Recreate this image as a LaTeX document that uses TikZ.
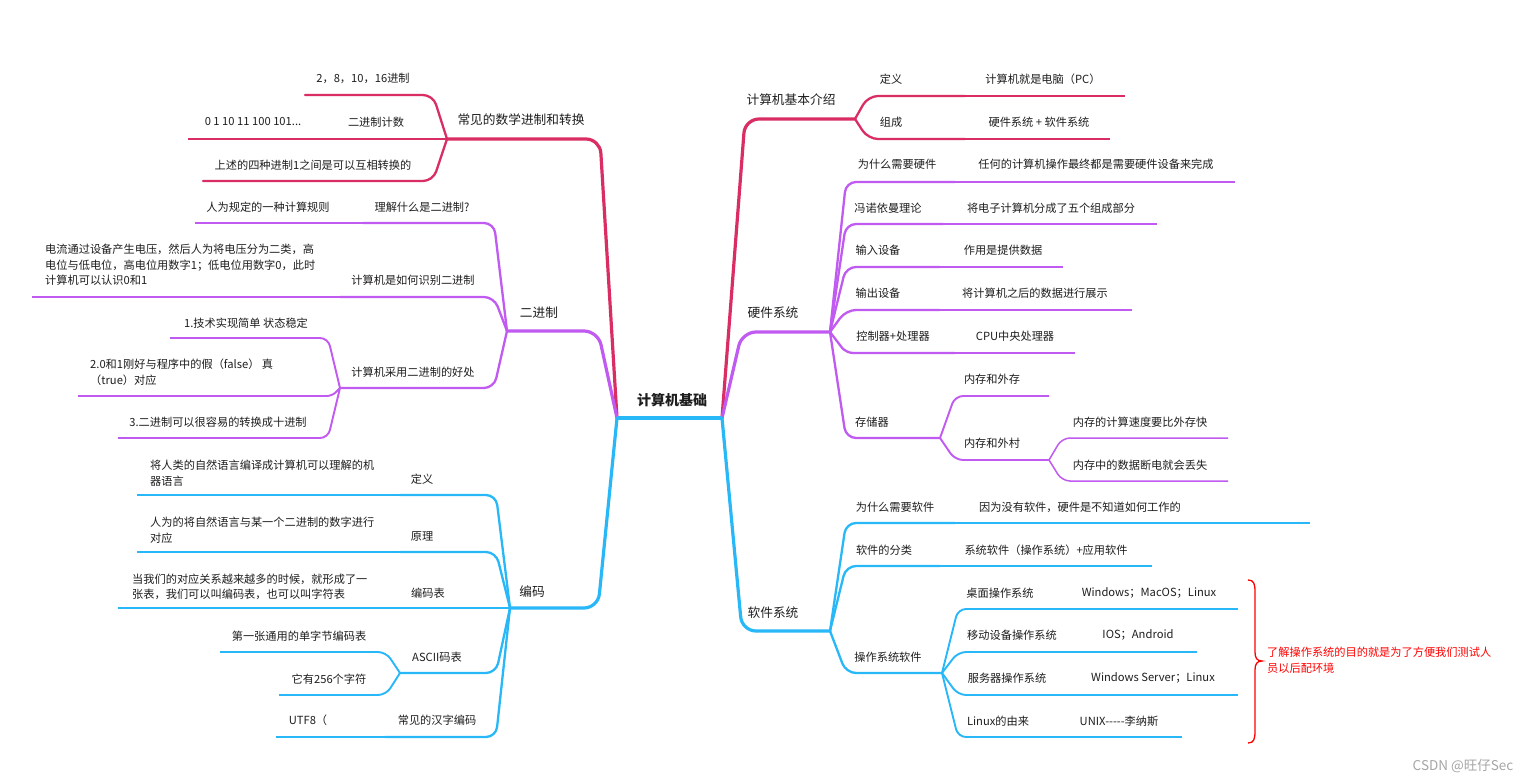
\documentclass[tikz,border=0pt]{standalone}
\usepackage{fontspec}
\setmainfont{Noto Sans CJK SC}
\definecolor{cpink}{RGB}{217,45,100}
\definecolor{cpurple}{RGB}{192,90,240}
\definecolor{cblue}{RGB}{40,184,248}
\definecolor{ctext}{RGB}{30,30,30}
\begin{document}
\begin{tikzpicture}[x=1pt,y=-1pt,
  every node/.style={inner sep=0pt, text=ctext, font=\fontsize{11.2}{15.5}\selectfont},
  big/.style={font=\fontsize{12.7}{15}\selectfont},
  rootlbl/.style={font=\fontsize{14}{16}\selectfont\bfseries},
  ml/.style={anchor=west, align=left},
  mainln/.style={line width=3.2pt, rounded corners=14pt, line cap=round},
  subln/.style={line width=2.3pt, rounded corners=10pt, line cap=round},
  leafln/.style={line width=1.9pt},
  thinln/.style={line width=1.5pt, rounded corners=8pt},
]
\fill[white] (0,0) rectangle (1533,783);
\useasboundingbox (0,0) rectangle (1533,783);

% junctions
\coordinate (R) at (617,418);
\coordinate (Rr) at (722,418);
\coordinate (JA) at (447,139);
\coordinate (JB) at (507,331);
\coordinate (JC) at (340,388);
\coordinate (JD) at (510,608);
\coordinate (JE) at (400,673);
\coordinate (JF) at (855,119);
\coordinate (JG) at (830,332);
\coordinate (JH) at (940,438);
\coordinate (JI) at (1049,460);
\coordinate (JK) at (830,631);
\coordinate (JL) at (942,673);

% ===== left pink =====
\draw[cpink, mainln] (R) -- (600,139) -- (JA);
\draw[cpink, subln] (JA) -- (433,95) -- (305,95);
\draw[cpink, subln] (JA) -- (337,139);
\draw[cpink, leafln] (337,139) -- (188,139);
\draw[cpink, subln] (JA) -- (433,181) -- (203,181);

% ===== left purple =====
\draw[cpurple, mainln] (R) -- (598,331) -- (JB);
\draw[cpurple, subln] (JB) -- (494,223) -- (363,223);
\draw[cpurple, leafln] (363,223) -- (195,223);
\draw[cpurple, subln] (JB) -- (494,297) -- (340,297);
\draw[cpurple, leafln] (340,297) -- (32,297);
\draw[cpurple, subln] (JB) -- (494,388) -- (JC);
\draw[cpurple, thinln, line width=1.9pt] (JC) -- (328,338) -- (170,338);
\draw[cpurple, thinln, line width=1.9pt, rounded corners=5pt] (JC) -- (332,396) -- (78,396);
\draw[cpurple, thinln, line width=1.9pt] (JC) -- (328,438) -- (118,438);

% ===== left blue =====
\draw[cblue, mainln] (R) -- (598,608) -- (JD);
\draw[cblue, subln] (JD) -- (496,495) -- (400,495);
\draw[cblue, leafln] (400,495) -- (137,495);
\draw[cblue, subln] (JD) -- (496,552) -- (400,552);
\draw[cblue, leafln] (400,552) -- (137,552);
\draw[cblue, subln] (JD) -- (400,608);
\draw[cblue, leafln] (400,608) -- (118,608);
\draw[cblue, subln] (JD) -- (496,673) -- (JE);
\draw[cblue, thinln, line width=1.9pt] (JE) -- (386,652) -- (220,652);
\draw[cblue, thinln, line width=1.9pt] (JE) -- (386,695) -- (279,695);
\draw[cblue, subln] (JD) -- (496,737) -- (385,737);
\draw[cblue, leafln] (385,737) -- (276,737);

% ===== right pink =====
\draw[cpink, mainln] (Rr) -- (745,119) -- (JF);
\draw[cpink, subln] (JF) -- (868,96) -- (965,96);
\draw[cpink, leafln] (965,96) -- (1125,96);
\draw[cpink, subln] (JF) -- (868,139) -- (965,139);
\draw[cpink, leafln] (965,139) -- (1110,139);

% ===== right purple =====
\draw[cpurple, mainln] (Rr) -- (742,332) -- (JG);
\draw[cpurple, subln] (JG) -- (846,182) -- (955,182);
\draw[cpurple, leafln] (955,182) -- (1235,182);
\draw[cpurple, subln] (JG) -- (846,224) -- (943,224);
\draw[cpurple, leafln] (943,224) -- (1157,224);
\draw[cpurple, subln] (JG) -- (846,267) -- (940,267);
\draw[cpurple, leafln] (940,267) -- (1063,267);
\draw[cpurple, subln] (JG) -- (846,310) -- (940,310);
\draw[cpurple, leafln] (940,310) -- (1132,310);
\draw[cpurple, subln, rounded corners=7pt] (JG) -- (846,353) -- (955,353);
\draw[cpurple, leafln] (955,353) -- (1075,353);
\draw[cpurple, subln] (JG) -- (846,438) -- (JH);
\draw[cpurple, thinln, line width=1.9pt] (JH) -- (955,396) -- (1049,396);
\draw[cpurple, thinln, line width=1.9pt] (JH) -- (955,460) -- (JI);
\draw[cpurple, thinln] (JI) -- (1062,438) -- (1228,438);
\draw[cpurple, thinln] (JI) -- (1062,481) -- (1228,481);

% ===== right blue =====
\draw[cblue, mainln] (Rr) -- (742,631) -- (JK);
\draw[cblue, subln] (JK) -- (846,523) -- (955,523);
\draw[cblue, leafln] (955,523) -- (1310,523);
\draw[cblue, subln] (JK) -- (846,566) -- (940,566);
\draw[cblue, leafln] (940,566) -- (1152,566);
\draw[cblue, subln] (JK) -- (846,673) -- (JL);
\draw[cblue, thinln, line width=1.9pt] (JL) -- (958,609) -- (1054,609);
\draw[cblue, leafln, line width=1.5pt] (1054,609) -- (1238,609);
\draw[cblue, thinln, line width=1.9pt] (JL) -- (958,652) -- (1077,652);
\draw[cblue, leafln, line width=1.5pt] (1077,652) -- (1197,652);
\draw[cblue, thinln, line width=1.9pt] (JL) -- (958,695) -- (1055,695);
\draw[cblue, leafln, line width=1.5pt] (1055,695) -- (1238,695);
\draw[cblue, thinln, line width=1.9pt] (JL) -- (958,737) -- (1052,737);
\draw[cblue, leafln, line width=1.5pt] (1052,737) -- (1182,737);

% root bar
\draw[cblue, line width=3.6pt] (R) -- (Rr);

% red brace
\draw[red, line width=1.3pt] (1248,580) .. controls (1254,580) and (1255,584) .. (1255,592) -- (1255,652) .. controls (1255,658) and (1257,661) .. (1262,661) .. controls (1257,661) and (1255,664) .. (1255,670) -- (1255,731) .. controls (1255,739) and (1254,743) .. (1248,743);

% ===== texts =====
\node[rootlbl] (root) at (672,400) {计算机基础};

\node[big] (b1) at (521,120) {常见的数学进制和转换};
\node (b1a) at (363,78) {2，8，10，16进制};
\node (b1b) at (376,122) {二进制计数};
\node (b1bl) at (253,122) {0 1 10 11 100 101...};
\node (b1c) at (313,165) {上述的四种进制1之间是可以互相转换的};

\node[big] (b2) at (539,313) {二进制};
\node (b2a) at (422,207) {理解什么是二进制?};
\node (b2al) at (268,207) {人为规定的一种计算规则};
\node (b2b) at (413,280) {计算机是如何识别二进制};
\node[ml] (b2bl) at (45,265) {电流通过设备产生电压，然后人为将电压分为二类，高\\电位与低电位，高电位用数字1；低电位用数字0，此时\\计算机可以认识0和1};
\node (b2c) at (413,372) {计算机采用二进制的好处};
\node (b2c1) at (246,323) {1.技术实现简单 状态稳定};
\node[ml] (b2c2) at (90,372) {2.0和1刚好与程序中的假（false） 真\\（true）对应};
\node (b2c3) at (218,422) {3.二进制可以很容易的转换成十进制};

\node[big] (b3) at (532,592) {编码};
\node (b3a) at (422,479) {定义};
\node[ml] (b3al) at (150,473) {将人类的自然语言编译成计算机可以理解的机\\器语言};
\node (b3b) at (422,536) {原理};
\node[ml] (b3bl) at (150,530) {人为的将自然语言与某一个二进制的数字进行\\对应};
\node (b3c) at (428,593) {编码表};
\node[ml] (b3cl) at (132,587) {当我们的对应关系越来越多的时候，就形成了一\\张表，我们可以叫编码表，也可以叫字符表};
\node (b3d) at (437,657) {ASCII码表};
\node (b3d1) at (299,636) {第一张通用的单字节编码表};
\node (b3d2) at (329,679) {它有256个字符};
\node (b3e) at (437,720) {常见的汉字编码};
\node (b3el) at (308,720) {UTF8（};

\node[big] (c1) at (791,100) {计算机基本介绍};
\node (c1a) at (891,79) {定义};
\node (c1al) at (1043,79) {计算机就是电脑（PC）};
\node (c1b) at (891,122) {组成};
\node (c1bl) at (1039,122) {硬件系统 + 软件系统};

\node[big] (c2) at (773,313) {硬件系统};
\node (c2a) at (897,164) {为什么需要硬件};
\node (c2al) at (1096,164) {任何的计算机操作最终都是需要硬件设备来完成};
\node (c2b) at (888,208) {冯诺依曼理论};
\node (c2bl) at (1051,208) {将电子计算机分成了五个组成部分};
\node (c2c) at (878,250) {输入设备};
\node (c2cl) at (1003,250) {作用是提供数据};
\node (c2d) at (878,293) {输出设备};
\node (c2dl) at (1035,293) {将计算机之后的数据进行展示};
\node (c2e) at (893,336) {控制器+处理器};
\node (c2el) at (1015,336) {CPU中央处理器};
\node (c2f) at (872,422) {存储器};
\node (c2f1) at (992,379) {内存和外存};
\node (c2f2) at (992,443) {内存和外村};
\node (c2f2a) at (1140,422) {内存的计算速度要比外存快};
\node (c2f2b) at (1140,465) {内存中的数据断电就会丢失};

\node[big] (c3) at (773,613) {软件系统};
\node (c3a) at (895,507) {为什么需要软件};
\node (c3al) at (1080,507) {因为没有软件，硬件是不知道如何工作的};
\node (c3b) at (884,550) {软件的分类};
\node (c3bl) at (1046,550) {系统软件（操作系统）+应用软件};
\node (c3c) at (888,657) {操作系统软件};
\node (c3c1) at (1000,593) {桌面操作系统};
\node (c3c1l) at (1149,593) {Windows；MacOS；Linux};
\node (c3c2) at (1012,635) {移动设备操作系统};
\node (c3c2l) at (1138,635) {IOS；Android};
\node (c3c3) at (1007,678) {服务器操作系统};
\node (c3c3l) at (1153,678) {Windows Server；Linux};
\node (c3c4) at (998,721) {Linux的由来};
\node (c3c4l) at (1119,721) {UNIX{-}{-}{-}{-}{-}李纳斯};

\node[ml, text=red] (note) at (1267,660) {了解操作系统的目的就是为了方便我们测试人\\员以后配环境};

\node[text=gray!70, font=\fontsize{13.5}{15}\selectfont] (wm) at (1463,766) {CSDN @旺仔Sec};
\end{tikzpicture}
\end{document}
